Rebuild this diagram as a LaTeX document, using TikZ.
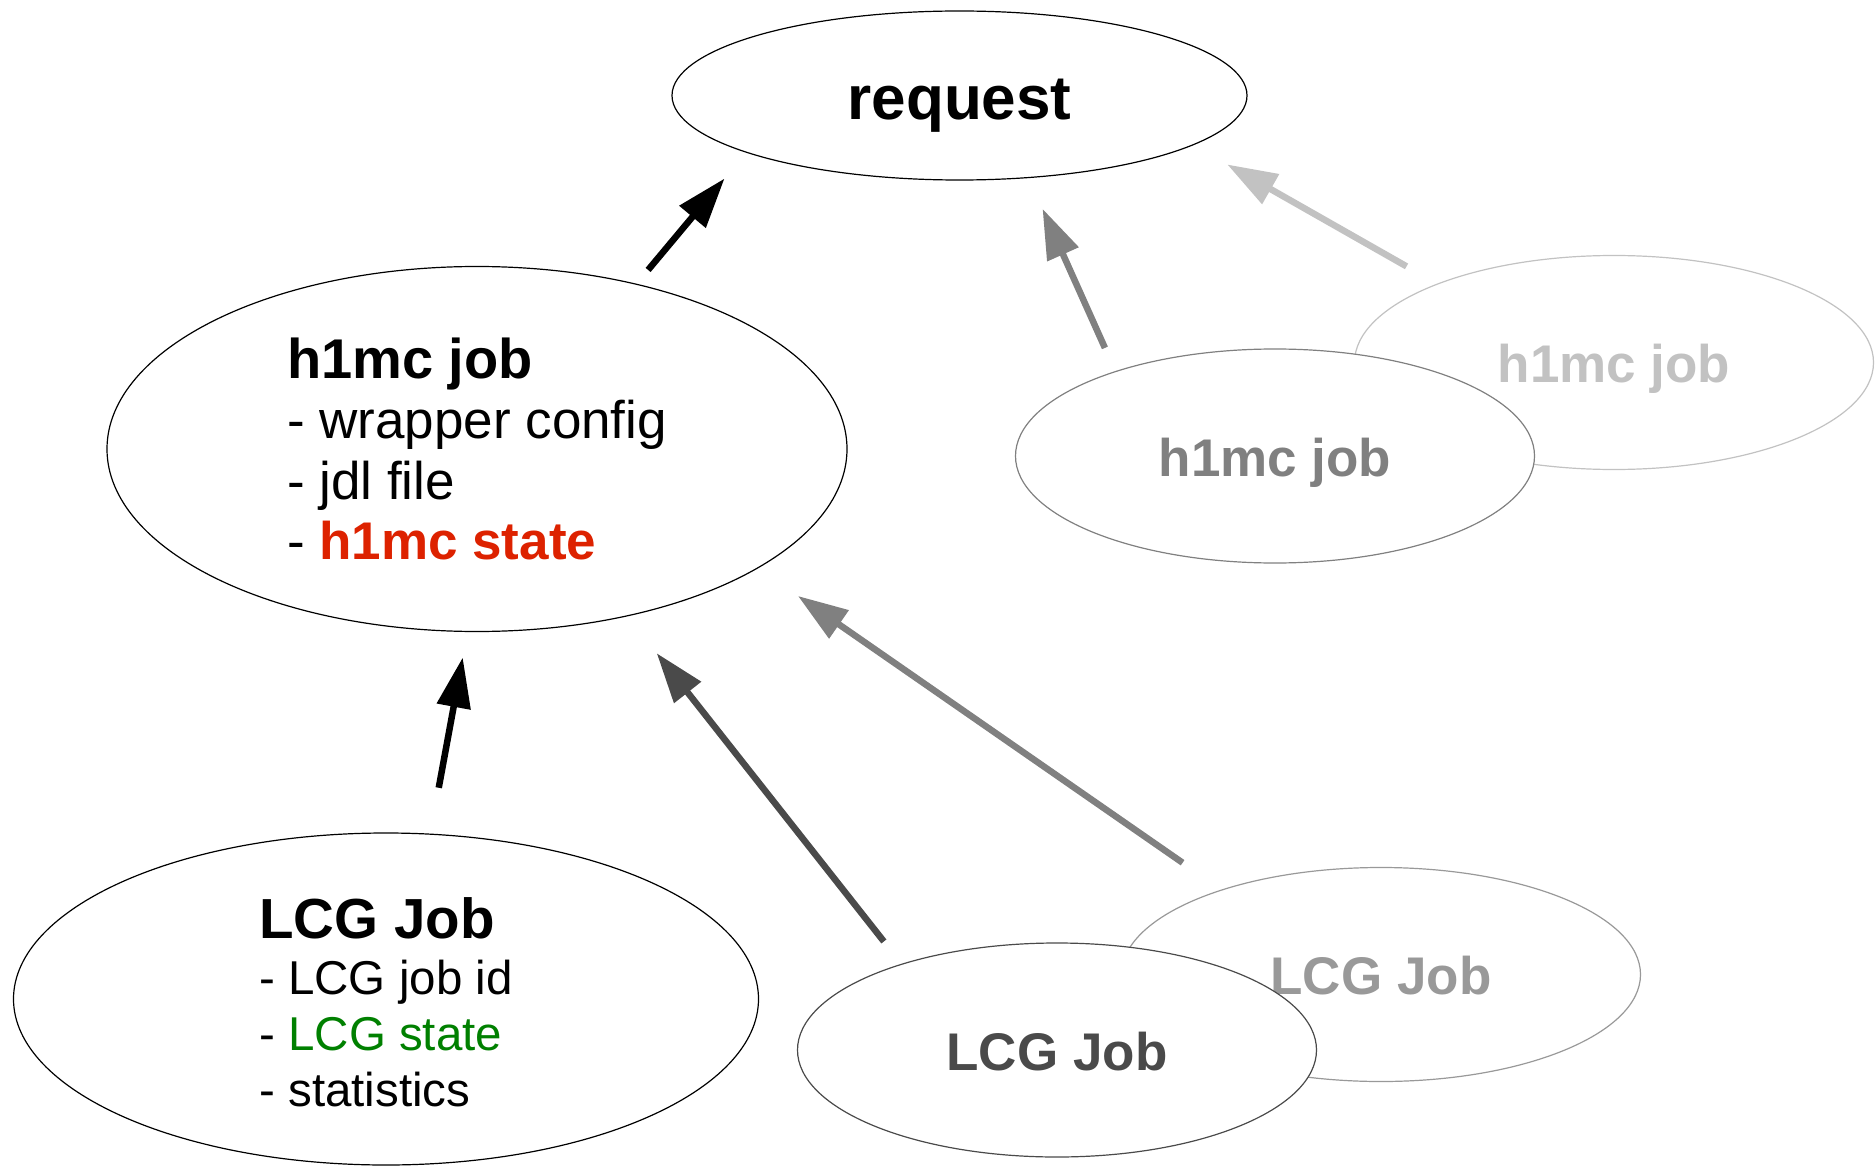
\documentclass[tikz,border=0pt]{standalone}
\usepackage{fontspec}
\setmainfont{Liberation Sans}
\usetikzlibrary{shapes.geometric,arrows.meta}
\definecolor{state red}{rgb}{0.8667, 0.1333, 0}
\definecolor{state green}{rgb}{0.0, 0.5, 0.0}
\definecolor{dark gray}{rgb}{0.29, 0.29, 0.29}
\definecolor{mid gray}{rgb}{0.5, 0.5, 0.5}
\definecolor{soft gray}{rgb}{0.6, 0.6, 0.6}
\definecolor{faint gray}{rgb}{0.76, 0.76, 0.76}

\begin{document}
\begin{tikzpicture}[x=1pt, y=-1pt,
		blob/.style = {ellipse, draw, fill=white, line width=1.2pt, inner sep=0pt},
		small blob/.style = {blob, minimum width=519pt, minimum height=214pt,
			text height=45pt, text depth=5pt,
			font=\fontsize{53}{60}\selectfont\bfseries},
		link/.style = {line width=6.5pt, -{Triangle[length=50pt, width=33pt]}}]
	\useasboundingbox (0,0) rectangle (1876,1166);
	% the request
	\node[blob, minimum width=575pt, minimum height=169pt, text height=52pt, text depth=3pt,
		font=\fontsize{62}{70}\selectfont\bfseries] (request) at (959.5, 95.5) {request};
	% part for the h1mc jobs
	\begin{scope}
		\node[blob, minimum width=740pt, minimum height=365pt, align=left,
			font=\fontsize{53}{60.5}\selectfont] (h1mc) at (477, 449)
			{{\fontsize{56}{60.5}\selectfont\bfseries h1mc job}\\
			- wrapper config\\
			- jdl file\\
			- \textcolor{state red}{\bfseries h1mc state}};
		\node[small blob, draw=faint gray, text=faint gray] (h1mc-back) at (1614, 362.5) {h1mc job};
		\node[small blob, draw=mid gray, text=mid gray] (h1mc-front) at (1275, 456) {h1mc job};
	\end{scope}
	% part for the LCG jobs
	\begin{scope}
		\node[blob, minimum width=745pt, minimum height=332pt, align=left, text height=216pt,
			font=\fontsize{47.5}{56}\selectfont] (lcg) at (386, 999)
			{{\fontsize{56.5}{56}\selectfont\bfseries LCG Job}\\
			- LCG job id\\
			- \textcolor{state green}{LCG state}\\
			- statistics};
		\node[small blob, draw=soft gray, text=soft gray] (lcg-back) at (1381, 974.5) {LCG Job};
		\node[small blob, draw=dark gray, text=dark gray] (lcg-front) at (1057, 1050) {LCG Job};
	\end{scope}
	% arrows
	\draw[link, shorten <=18pt, shorten >=33.7pt] (h1mc.46.5) -- (request.195.3);
	\draw[link, mid gray, shorten <=25.4pt, shorten >=33.6pt] (h1mc-front.152.1) -- (request.310.5);
	\draw[link, faint gray, shorten <=35pt, shorten >=39pt] (h1mc-back.156.5) -- (request.348);
	\draw[link, shorten <=46.6pt, shorten >=25.9pt] (lcg.75.46) -- (h1mc.267.6);
	\draw[link, dark gray, shorten <=28.4pt, shorten >=47pt] (lcg-front.151.8) -- (h1mc.312.7);
	\draw[link, mid gray, shorten <=47.1pt, shorten >=48.5pt] (lcg-back.152.3) -- (h1mc.337.9);
\end{tikzpicture}
\end{document}
